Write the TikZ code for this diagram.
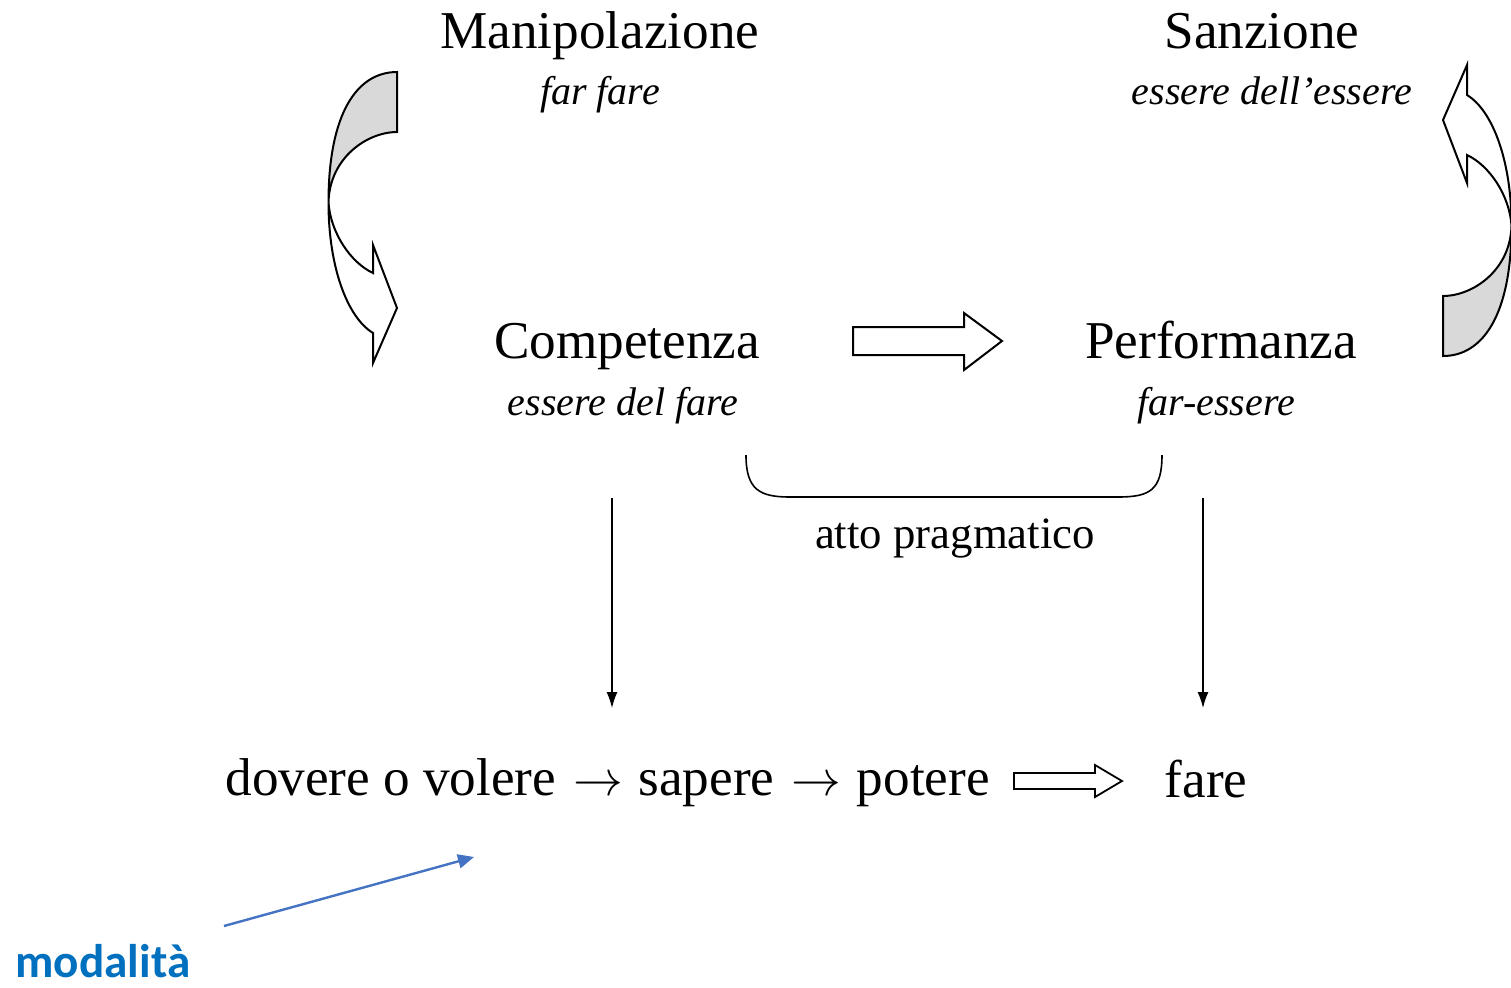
\documentclass[tikz,border=0pt]{standalone}
\usepackage{fontspec}
\setmainfont{Liberation Serif}
\newfontfamily\calibrifont{Carlito}
\usetikzlibrary{arrows.meta}
\definecolor{grigio}{rgb}{0.85,0.85,0.85}
\definecolor{blu}{rgb}{0.27,0.45,0.77}
\definecolor{blutesto}{rgb}{0.0,0.44,0.75}
\newcommand{\freccina}{\hspace{2pt}$\rightarrow$\hspace{1pt}}
\tikzset{
  titolo/.style={anchor=base,inner sep=0pt,font=\fontsize{26.6}{30}\selectfont},
  sottotitolo/.style={anchor=base,inner sep=0pt,font=\fontsize{20}{24}\selectfont\itshape},
  blocco/.style={draw=black,line width=1pt,fill=white,line join=miter},
  pics/curva/.style={code={
    \filldraw[blocco,fill=grigio] (34.5,-145.5) .. controls (-5,-145.5) and (-34,-105) .. (-34,-15)
      .. controls (-33,-60) and (5,-85.5) .. (34.5,-85.5) -- cycle;
    \filldraw[blocco] (-34,-15) .. controls (-34,50) and (-15,100) .. (10.5,115.5)
      -- (10.5,145.5) -- (34.5,90.5) -- (10.5,27.5) -- (10.5,55.5)
      .. controls (-12,45) and (-32,15) .. (-34,-15) -- cycle;
  }}
}
\begin{document}
\begin{tikzpicture}[x=0.5pt,y=-0.5pt,>={Latex[length=8pt,width=5.5pt]},line join=bevel,]
  \fill[white] (0,0) rectangle (1511,987);
  \useasboundingbox (0,0) rectangle (1511,987);
%%
  % Node: manipolazione
  \node[titolo] (manipolazione) at (600,48) {Manipolazione};
  \node[sottotitolo] (far_fare) at (600,104) {far fare};
  % Node: sanzione
  \node[titolo] (sanzione) at (1262,48) {Sanzione};
  \node[sottotitolo] (essere_dell_essere) at (1272,104) {essere dell’essere};
  % Node: competenza
  \node[titolo] (competenza) at (627,358) {Competenza};
  \node[sottotitolo] (essere_del_fare) at (623,415) {essere del fare};
  % Node: performanza
  \node[titolo] (performanza) at (1221,358) {Performanza};
  \node[sottotitolo] (far_essere) at (1216,415) {far-essere};
  % Node: atto_pragmatico
  \node[anchor=base,inner sep=0pt,font=\fontsize{22.4}{26}\selectfont] (atto_pragmatico) at (955,548) {atto pragmatico};
  % Node: catena
  \node[titolo,anchor=base west] (catena) at (225,795) {dovere o volere \freccina{} sapere \freccina{} potere};
  % Node: fare
  \node[titolo] (fare) at (1206,797) {fare};
  % Node: modalita
  \node[anchor=base west,inner sep=0pt,text=blutesto,font=\calibrifont\bfseries\fontsize{23.6}{28}\selectfont] (modalita) at (15,977) {modalità};
%
  % Edge: manipolazione -> competenza
  \pic at (362.5,217.5) {curva};
  % Edge: performanza -> sanzione
  \pic[rotate=180] at (1477.5,210.5) {curva};
  % Edge: competenza -> performanza
  \coordinate (comp_perf) at (853,327);
  \draw[blocco] (comp_perf) -- ++(111,0) -- ++(0,-14) -- ++(38,28) -- ++(-38,29) -- ++(0,-15) -- ++(-111,0) -- cycle;
  % Edge: catena -> fare
  \coordinate (catena_fare) at (1014,773);
  \draw[blocco,line width=0.9pt] (catena_fare) -- ++(81,0) -- ++(0,-8) -- ++(27,16) -- ++(-27,16) -- ++(0,-8) -- ++(-81,0) -- cycle;
  % Edge: competenza -> catena
  \coordinate (comp_top) at (612,498);
  \coordinate (comp_bot) at (612,708);
  \draw[->,line width=0.7pt] (comp_top) -- (comp_bot);
  % Edge: performanza -> fare
  \coordinate (perf_top) at (1203,498);
  \coordinate (perf_bot) at (1203,708);
  \draw[->,line width=0.7pt] (perf_top) -- (perf_bot);
  % Edge: atto_pragmatico (parentesi)
  \coordinate (par_sx) at (746,455);
  \coordinate (par_dx) at (1162,455);
  \draw[line width=0.8pt] (par_sx) .. controls (746,490) and (760,497) .. (790,497) -- (1118,497) .. controls (1150,497) and (1162,490) .. (par_dx);
  % Edge: modalita -> catena
  \coordinate (mod_sx) at (224,926);
  \coordinate (mod_dx) at (474,857);
  \draw[blu,line width=1.2pt,-{Triangle[length=8pt,width=7pt]}] (mod_sx) -- (mod_dx);
%
\end{tikzpicture}
\end{document}
